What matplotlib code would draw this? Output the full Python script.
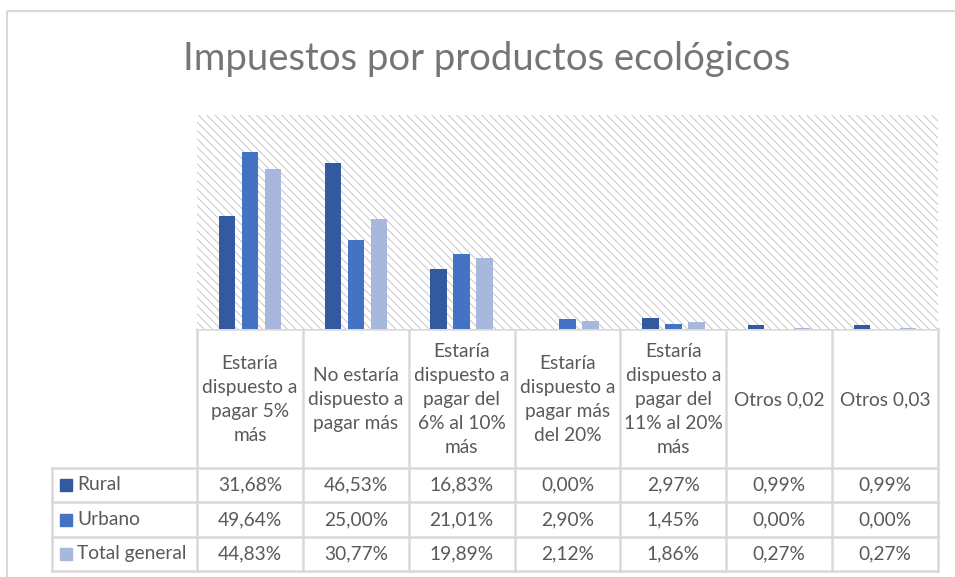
import numpy as np
import matplotlib.pyplot as plt
from matplotlib.patches import Rectangle

plt.rcParams['font.family'] = ['Lato', 'DejaVu Sans']
plt.rcParams['hatch.linewidth'] = 0.6

# data
categories = ["Estaría\ndispuesto a\npagar 5%\nmás",
              "No estaría\ndispuesto a\npagar más",
              "Estaría\ndispuesto a\npagar del\n6% al 10%\nmás",
              "Estaría\ndispuesto a\npagar más\ndel 20%",
              "Estaría\ndispuesto a\npagar del\n11% al 20%\nmás",
              "Otros 0,02",
              "Otros 0,03"]
series = ["Rural", "Urbano", "Total general"]
rural = [31.68, 46.53, 16.83, 0.00, 2.97, 0.99, 0.99]
urbano = [49.64, 25.00, 21.01, 2.90, 1.45, 0.00, 0.00]
total = [44.83, 30.77, 19.89, 2.12, 1.86, 0.27, 0.27]
colors = ["#335aa1", "#4472c4", "#a8b7dc"]

W, H = 955, 577
fig = plt.figure(figsize=(W / 100, H / 100), dpi=100)

# layout in pixels
x0, x1 = 197, 938
y_top, y_base = 115, 329
rows_y = [468, 502, 537, 571]
label_x0 = 52
grid_c = "#d9d9d9"
txt_c = "#595959"
fs = 13.8

def fx(px):
    return px / W

def fy(py):
    return 1 - py / H

# overlay for table and border, pixel coordinates
ov = fig.add_axes([0, 0, 1, 1])
ov.set_xlim(0, W)
ov.set_ylim(H, 0)
ov.axis('off')

ov.add_patch(Rectangle((6.5, 10.5), W, H, fill=False, edgecolor=grid_c, lw=1.5))

ax = fig.add_axes([fx(x0), fy(y_base), fx(x1) - fx(x0), (y_base - y_top) / H])
# hatch density: each backslash gives 6 lines per inch
ax.add_patch(Rectangle((0, 0), 1, 1, transform=ax.transAxes, facecolor="white",
                       edgecolor="#bdbdbd", hatch="\\" * 4, lw=0, zorder=0))
ax.patch.set_visible(False)

x = np.arange(len(categories))
off = 0.217
bw = 0.155
for i, (vals, c) in enumerate(zip([rural, urbano, total], colors)):
    ax.bar(x + (i - 1) * off, np.array(vals) / 100, width=bw, color=c, zorder=2)
ax.set_xlim(-0.5, len(categories) - 0.5)
ax.set_ylim(0, 0.6)
ax.axis('off')

fig.text(fx(487), fy(59), "Impuestos por productos ecológicos", ha="center",
         va="center", fontsize=27.5, color="#757575")

# table grid
col_w = (x1 - x0) / len(categories)
col_edges = [x0 + k * col_w for k in range(len(categories) + 1)]
lw = 1.8
for cx in col_edges:
    ov.plot([cx, cx], [y_base, rows_y[-1]], color=grid_c, lw=lw)
ov.plot([label_x0, label_x0], [rows_y[0], rows_y[-1]], color=grid_c, lw=lw)
ov.plot([x0, x1], [y_base, y_base], color=grid_c, lw=lw)
for ry in rows_y:
    ov.plot([label_x0, x1], [ry, ry], color=grid_c, lw=lw)

# header text
for k, cat in enumerate(categories):
    cx = (col_edges[k] + col_edges[k + 1]) / 2
    ov.text(cx, (y_base + rows_y[0]) / 2 + 1, cat, ha="center", va="center",
            fontsize=fs, color=txt_c, linespacing=1.5)

# rows
for r, (name, vals, c) in enumerate(zip(series, [rural, urbano, total], colors)):
    cy = (rows_y[r] + rows_y[r + 1]) / 2
    ov.add_patch(Rectangle((60, cy - 6), 12, 12, color=c))
    ov.text(77, cy, name, ha="left", va="center", fontsize=fs, color=txt_c)
    for k, v in enumerate(vals):
        cx = (col_edges[k] + col_edges[k + 1]) / 2
        ov.text(cx, cy, f"{v:.2f}%".replace(".", ","), ha="center", va="center",
                fontsize=fs, color=txt_c)

fig.savefig("out.png", dpi=100)
